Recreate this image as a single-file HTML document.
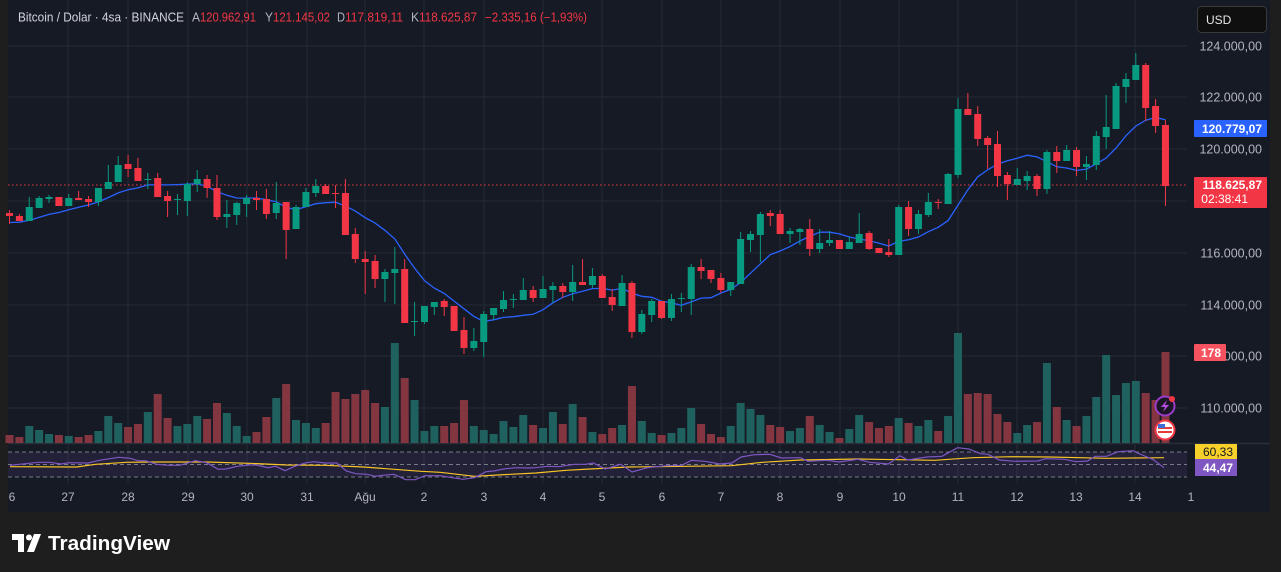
<!DOCTYPE html>
<html><head><meta charset="utf-8"><style>
html,body{margin:0;padding:0;width:1281px;height:572px;background:#1e1e1e;overflow:hidden;font-family:"Liberation Sans",sans-serif}
</style></head><body>
<svg id="s" width="1281" height="572" xmlns="http://www.w3.org/2000/svg" style="position:absolute;left:0;top:0"></svg>
<script>
const C=[
[213,216,210,224],[216,221,214,221],[221,207,197,221],[208,198,196,208],[199,197,195,203],[197,206,197,206],[206,198,194,206],[198,200,191,200],[199,202,196,207],[202,188,188,206],
[189,182,165,189],[182,165,156,182],[164,169,155,177],[168,181,158,181],[180,179,173,189],[178,197,173,197],[196,201,191,217],[200,199,194,215],[201,184,182,216],[184,179,170,192],
[179,188,175,198],[188,217,175,220],[217,214,200,228],[215,203,202,225],[204,198,195,217],[198,200,191,210],[199,214,189,219],[213,203,182,219],[202,230,202,259],[229,207,205,229],
[207,192,188,207],[193,186,179,197],[186,194,184,194],[193,194,185,208],[193,235,179,235],[234,259,228,263],[259,262,251,294],[261,279,255,288],[279,272,269,302],[273,269,247,304],
[269,323,259,323],[322,321,302,336],[322,306,306,324],[307,302,302,315],[301,307,299,316],[306,331,306,331],[330,348,317,354],[348,341,328,351],[342,314,311,357],[315,308,308,320],
[309,300,291,312],[299.5,299,294,308],[300,290,278,300],[290,298,286,302],[298,289,276,298],[290,286,282,303],[286,292,283,298],[292,282,265,301],[282,285,259,285],[285,276,268,288],
[276,298,274,298],[297,305,289,311],[306,283,275,306],[283,332,281,338],[332,314,310,334],[315,301,299,322],[301,318,301,319],[318,299,294,321],[299,298,293,312],[299,267,264,315],
[267,271,259,279],[270,279,270,283],[278,290,273,293],[290,282,282,296],[284,239,232,284],[240,234,231,252],[235,214,212,262],[213,216,210,226],[214,234,210,234],[234,231,228,243],
[232,229,228,245],[229,249,219,256],[249,243,229,253],[243,240,231,246],[240,249,240,249],[249,242,237,249],[243,234,213,243],[233,249,231,250],[248,253,248,253],[252,255,239,257],
[255,207,205,255],[207,229,201,236],[229,214,210,234],[215,202,193,217],[202,202.5,199,209],[204,174,173,204],[175,109,98,178],[109,115,93,115],[114,139,106,146],[138,145,136,169],
[144,176,131,187],[175,184,172,200],[185,179,168,185],[181,176,171,190],[176,189,174,196],[189,152,150,194],[152,161,146,173],[161,150,145,161],[150,167,147,176],[167,164,156,180],
[165,136,131,170],[137,127,95,149],[129,86,83,129],[87,79,73,103],[80,65,53,80],[65,108,63,121],[106,126,99,133],[125,186,120,206]];
const V=[300,306,273,285,297,300,303,306,300,288,243,264,276,267,231,177,249,273,267,243,252,204,234,273,303,291,246,189,147,255,264,279,264,171,192,177,165,204,216,24,129,195,288,273,273,264,195,273,285,297,258,276,240,270,279,231,267,207,246,291];
const V2=[327,309,300,183,288,324,330,324,309,249,297,327,336,303,234,252,270,300,306,318,309,273,300,321,339,312,270,291,309,303,279,294,303,285,318,273,24,207,204,207,267,291,324,300,291,114,246,285,303,273,216,90,210,174,168,204,225,81];
const vy=V.map(z=>335+z/3).concat(V2.map(z=>325+z/3));
let h='';
const X=i=>9.5+9.88*i;
h+='<rect x="8" y="0" width="1262" height="512" fill="#161a25"/>';
h+='<rect x="1270" y="0" width="11" height="512" fill="#1e1e1e"/>';
const days=[68,128,188,247,307,365,424,484,543,602,662,721,780,840,899,958,1017,1076,1135];
days.forEach(x=>h+=`<line x1="${x}" y1="0" x2="${x}" y2="483" stroke="#252935" stroke-width="1"/>`);
[46,97,149,201,253,305,356,408].forEach(y=>h+=`<line x1="8" y1="${y}" x2="1187" y2="${y}" stroke="#252935" stroke-width="1"/>`);
h+='<rect x="8" y="452" width="1179" height="25" fill="#7e57c2" fill-opacity="0.12"/>';
[452,464.5,477].forEach(y=>h+=`<line x1="8" y1="${y}" x2="1187" y2="${y}" stroke="#787b86" stroke-dasharray="4,3" stroke-width="1"/>`);
h+='<line x1="8" y1="443.5" x2="1270" y2="443.5" stroke="#2a2e39" stroke-width="1.5"/>';
vy.forEach((y,i)=>{const c=C[i];const up=c[1]<c[0];h+=`<rect x="${X(i)-4}" y="${y}" width="8" height="${443-y}" fill="${up?'#1f615e':'#833640'}"/>`;});
h+='<line x1="8" y1="185" x2="1187" y2="185" stroke="#f23645" stroke-dasharray="1.5,2.5" stroke-width="1"/>';
let pts=[];const P=9;
for(let i=0;i<C.length;i++){let s=0;for(let k=i-P+1;k<=i;k++){s+=k<0?222+(k)*-0.3:C[k][1];}pts.push(X(i).toFixed(1)+','+(s/P).toFixed(1));}
h+=`<polyline points="${pts.join(' ')}" fill="none" stroke="#2962ff" stroke-width="1.3"/>`;
C.forEach((c,i)=>{const up=c[1]<c[0];const col=up?'#089981':'#f23645';const x=X(i);const t=Math.min(c[0],c[1]);let bh=Math.abs(c[0]-c[1]);if(bh<1)bh=1;
h+=`<line x1="${x}" y1="${c[2]}" x2="${x}" y2="${c[3]}" stroke="${col}" stroke-width="1"/><rect x="${x-3.5}" y="${t}" width="7" height="${bh}" fill="${col}"/>`;});
const p1=[[26,391],[100,382],[130,382],[160,387],[180,383],[230,384],[260,376],[310,367],[340,370],[360,377],[380,377],[410,388],[440,391],[470,391],[510,377],[540,383],[570,403],[590,402],[620,394],[650,390],[670,390],[700,398],[720,394],[745,407],[770,394],[800,383],[820,380],[850,384],[880,384],[905,408],[930,416],[960,418],[980,424],[1000,421],[1030,418],[1060,434],[1085,434],[1110,422],[1150,422],[1180,428],[1210,433],[1240,428],[1270,410],[1290,408],[1320,401],[1350,398],[1380,399],[1400,398],[1430,394],[1460,395],[1500,388],[1530,388],[1550,384]].map(p=>[p[0]/2.613,335+p[1]/3]);
const p2=[[40,432],[80,418],[110,441],[150,428],[200,422],[240,421],[265,406],[300,409],[340,417],[370,414],[395,396],[430,389],[470,388],[500,399],[550,398],[570,409],[620,406],[650,411],[700,403],[730,412],[780,417],[810,392],[830,405],[880,396],[920,394],[960,368],[990,372],[1020,386],[1040,388],[1070,405],[1110,409],[1170,408],[1190,401],[1240,403],[1270,410],[1300,408],[1320,394],[1350,394],[1380,380],[1420,377],[1430,384],[1470,403],[1500,428]].map(p=>[590+p[0]/2.613,325+p[1]/3]);
const y1=[[26,395],[200,396],[250,388],[330,382],[400,381],[540,381],[650,385],[750,390],[850,391],[950,396],[1100,409],[1150,412],[1240,424],[1300,420],[1400,414],[1480,406]].map(p=>[p[0]/2.613,335+p[1]/3]);
const y2=[[0,432],[100,426],[250,424],[370,422],[450,412],[550,405],[700,402],[900,406],[1000,398],[1100,395],[1200,396],[1350,400],[1500,398]].map(p=>[590+p[0]/2.613,325+p[1]/3]);
const pl=a=>a.map(p=>p[0].toFixed(1)+','+p[1].toFixed(1)).join(' ');
h+=`<polyline points="${pl(y1.concat(y2))}" fill="none" stroke="#f7c325" stroke-width="1.2"/>`;
h+=`<polyline points="${pl(p1.concat(p2))}" fill="none" stroke="#7e57c2" stroke-width="1.2"/>`;
const pl2=[[124,46,'124.000,00'],[122,97,'122.000,00'],[120,149,'120.000,00'],[116,253,'116.000,00'],[114,305,'114.000,00'],[112,356,'112.000,00'],[110,408,'110.000,00']];
pl2.forEach(p=>h+=`<text x="1262" y="${p[1]+4.5}" fill="#b2b5be" font-size="12.5" text-anchor="end">${p[2]}</text>`);
h+='<rect x="1194" y="120" width="73" height="17" rx="1" fill="#2962ff"/><text x="1262" y="133" fill="#fff" font-size="12" font-weight="bold" text-anchor="end">120.779,07</text>';
h+='<rect x="1194" y="177" width="73" height="31" rx="1" fill="#f23645"/><text x="1262" y="189" fill="#fff" font-size="12" font-weight="bold" text-anchor="end">118.625,87</text><text x="1248" y="203" fill="#fff" font-size="12" text-anchor="end">02:38:41</text>';
h+='<rect x="1194" y="344" width="32" height="17" rx="1" fill="#f7525f"/><text x="1221" y="357" fill="#fff" font-size="12" font-weight="bold" text-anchor="end">178</text>';
h+='<rect x="1195" y="444" width="42" height="15" fill="#f7d02a"/><text x="1233" y="456" fill="#131722" font-size="12" text-anchor="end">60,33</text>';
h+='<rect x="1195" y="459" width="42" height="17" fill="#7e57c2"/><text x="1233" y="472" fill="#fff" font-size="12" font-weight="bold" text-anchor="end">44,47</text>';
h+='<rect x="1197.5" y="6.5" width="69" height="26" rx="4" fill="#0f0f0f" stroke="#3a3a3a"/><text x="1206" y="24" fill="#e6e6e6" font-size="12">USD</text>';
h+='<circle cx="1165" cy="406" r="9.5" fill="#1a1626" stroke="#9c3bc9" stroke-width="2"/><path d="M1167 400 L1161 407 L1165 407 L1163 412 L1169 405 L1165 405 Z" fill="#b54ee0"/><circle cx="1172" cy="399" r="3" fill="#f23645"/>';
h+='<circle cx="1165" cy="430" r="9.5" fill="#fff" stroke="#f23645" stroke-width="2"/><rect x="1158" y="427" width="14" height="2" fill="#e53b3b"/><rect x="1158" y="431" width="14" height="2" fill="#e53b3b"/><rect x="1158" y="424" width="7" height="4" fill="#3b6fd6"/>';
const tl=[[12,'6'],[68,'27'],[128,'28'],[188,'29'],[247,'30'],[307,'31'],[365,'Ağu'],[424,'2'],[484,'3'],[543,'4'],[602,'5'],[662,'6'],[721,'7'],[780,'8'],[840,'9'],[899,'10'],[958,'11'],[1017,'12'],[1076,'13'],[1135,'14'],[1191,'1']];
tl.forEach(t=>h+=`<text x="${t[0]}" y="501" fill="#b2b5be" font-size="12" text-anchor="middle">${t[1]}</text>`);
const T=(x,w,s,c)=>`<text x="${x}" y="21.5" font-size="12.5" fill="${c}" textLength="${w}" lengthAdjust="spacingAndGlyphs">${s}</text>`;
h+=T(18,166,'Bitcoin / Dolar · 4sa · BINANCE','#d1d4dc');
h+=T(192,8,'A','#b2b5be')+T(200,56,'120.962,91','#f23645');
h+=T(265,8,'Y','#b2b5be')+T(273,57,'121.145,02','#f23645');
h+=T(337,8,'D','#b2b5be')+T(345,58,'117.819,11','#f23645');
h+=T(411,8,'K','#b2b5be')+T(419,58,'118.625,87','#f23645');
h+=T(485,102,'−2.335,16 (−1,93%)','#f23645');
h+='<path d="M12 534 H24 V552 H18 V540 H12 Z" fill="#fff"/><circle cx="29" cy="537.5" r="3" fill="#fff"/><path d="M34 534 H41 L34 552 H27 Z" fill="#fff"/>';
h+='<text x="48" y="550" fill="#fff" font-size="20" font-weight="bold" textLength="122" lengthAdjust="spacingAndGlyphs">TradingView</text>';
document.getElementById('s').innerHTML=h;
</script>
</body></html>
